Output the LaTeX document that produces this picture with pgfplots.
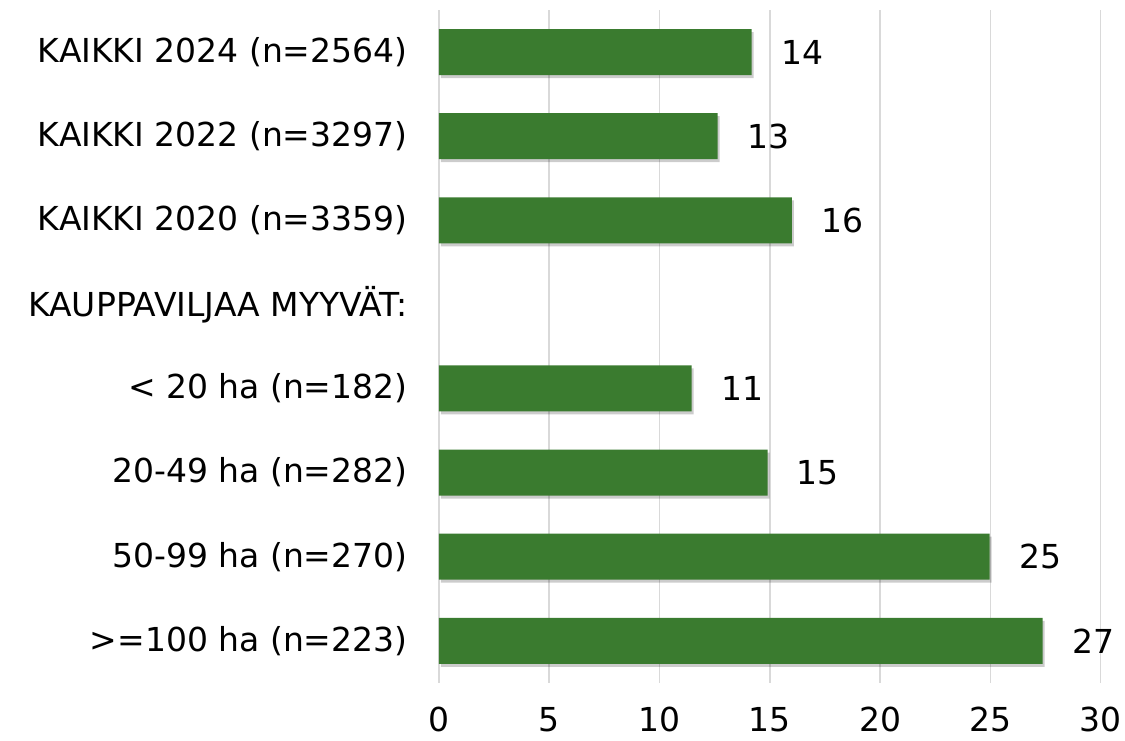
\documentclass[border=0pt]{standalone}
\usepackage{fontspec}
\setmainfont{DejaVu Sans}
\usepackage{pgfplots}
\pgfplotsset{compat=1.18}
\usetikzlibrary{shadows}
\definecolor{bargreen}{HTML}{3A7B2F}
\definecolor{gridgray}{HTML}{D9D9D9}
\begin{document}
\fontsize{16.5pt}{19pt}\selectfont
\begin{tikzpicture}
\begin{axis}[
  scale only axis,
  width=331pt, height=336.5pt,
  xmin=0, xmax=30,
  ymin=-0.5, ymax=7.5,
  y dir=reverse,
  axis line style={draw=none},
  xtick={0,5,...,30},
  ytick={0,...,7},
  yticklabels={KAIKKI 2024 (n=2564),KAIKKI 2022 (n=3297),KAIKKI 2020 (n=3359),KAUPPAVILJAA MYYVÄT:,< 20 ha (n=182),20-49 ha (n=282),50-99 ha (n=270),>=100 ha (n=223)},
  major tick length=0,
  xmajorgrids,
  grid style={gridgray, line width=0.75pt},
  tick label style={font=\fontsize{16.5pt}{19pt}\selectfont},
  /pgf/number format/assume math mode=true,
  yticklabel style={inner sep=0pt, xshift=-15.5pt, anchor=east},
  xticklabel style={inner sep=0pt, yshift=-12pt, anchor=north},
  xbar, bar width=23pt,
  nodes near coords={\pgfmathprintnumber[fixed,precision=0]{\pgfplotspointmeta}},
  point meta=explicit,
  nodes near coords style={anchor=west, xshift=9pt, font=\fontsize{16.5pt}{19pt}\selectfont, /pgf/number format/assume math mode=true},
  clip=false,
]
\addplot[fill=bargreen, draw=none, drop shadow={shadow xshift=1pt, shadow yshift=-1.5pt, fill=black, opacity=0.2}]
  coordinates {
  (14.18,0) [14]
  (12.64,1) [13]
  (16.0,2) [16]
  (11.46,4) [11]
  (14.9,5) [15]
  (24.97,6) [25]
  (27.37,7) [27]
  };
\path (axis cs:0,7.5) ++(-219.5pt,-29pt) rectangle ++(562.5pt,370.5pt);
\end{axis}
\end{tikzpicture}
\end{document}
